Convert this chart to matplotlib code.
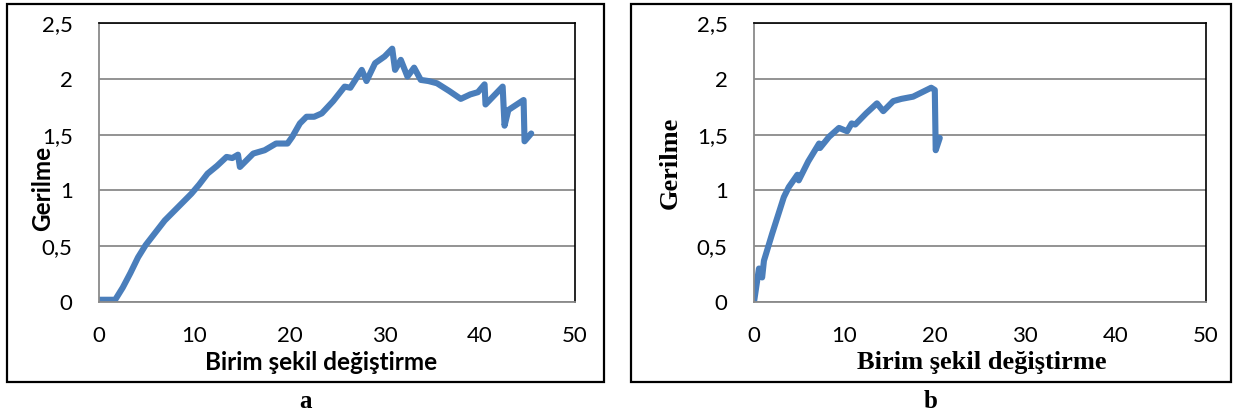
"""Stress-strain curves for samples a and b (Excel style)."""

import matplotlib

matplotlib.use("Agg")
import matplotlib.pyplot as plt
from matplotlib.patches import Rectangle

# sample a
strain_a = [0, 0.5, 1.0, 1.7, 2.5, 3.3, 4.1, 4.9, 5.9, 6.9, 8.3, 9.7, 10.5, 11.4,
            12.4, 13.4, 14.0, 14.6, 14.8, 15.5, 16.2, 17.4, 18.6, 19.8, 20.3, 21.1,
            21.8, 22.6, 23.4, 24.6, 25.8, 26.4, 27.6, 28.1, 29.0, 30.0, 30.8, 31.1,
            31.7, 32.4, 33.1, 33.8, 34.6, 35.5, 36.8, 38.0, 39.0, 39.8, 40.5, 40.6,
            41.5, 42.4, 42.6, 43.0, 44.6, 44.7, 45.4]
stress_a = [0.02, 0.02, 0.02, 0.02, 0.13, 0.26, 0.40, 0.51, 0.62, 0.73, 0.85, 0.97,
            1.05, 1.15, 1.22, 1.30, 1.29, 1.32, 1.21, 1.27, 1.33, 1.36, 1.42, 1.42,
            1.48, 1.60, 1.66, 1.66, 1.69, 1.80, 1.93, 1.92, 2.08, 1.98, 2.14, 2.20,
            2.27, 2.08, 2.17, 2.02, 2.10, 1.99, 1.98, 1.96, 1.89, 1.82, 1.86, 1.88,
            1.95, 1.77, 1.85, 1.93, 1.58, 1.72, 1.81, 1.44, 1.51]

# sample b
strain_b = [0, 0.55, 0.9, 1.1, 2.0, 3.3, 3.85, 4.8, 4.95, 6.0, 7.2, 7.3, 8.3, 9.4,
            10.3, 10.8, 11.2, 12.4, 13.6, 14.3, 15.4, 16.3, 17.6, 18.6, 19.6, 20.0,
            20.1, 20.55]
stress_b = [0, 0.30, 0.22, 0.37, 0.61, 0.94, 1.03, 1.14, 1.09, 1.26, 1.42, 1.38,
            1.48, 1.56, 1.53, 1.60, 1.59, 1.69, 1.78, 1.71, 1.80, 1.82, 1.84, 1.88,
            1.92, 1.90, 1.36, 1.47]

x_ticks = [0, 10, 20, 30, 40, 50]
y_ticks = [0, 0.5, 1, 1.5, 2, 2.5]
y_tick_labels = ["0", "0,5", "1", "1,5", "2", "2,5"]

LINE_COLOR = "#4a7ebb"
GRID_COLOR = "#8a8a8a"
W, H = 1233, 417

fig = plt.figure(figsize=(W / 100, H / 100), dpi=100)


def px_box(x0, y0, x1, y1):
    """Pixel box (top-left origin) -> figure fraction rect."""
    return [x0 / W, 1 - y1 / H, (x1 - x0) / W, (y1 - y0) / H]


def draw_panel(rect, strain, stress, title_font, caption, outer, xlab_pos, ylab_pos, cap_pos):
    ax = fig.add_axes(px_box(*rect))
    ax.plot(strain, stress, color=LINE_COLOR, lw=4.4,
            solid_joinstyle="round", solid_capstyle="round")
    ax.set_xlim(0, 50)
    ax.set_ylim(0, 2.5)
    ax.set_xticks(x_ticks)
    ax.set_yticks(y_ticks)
    ax.set_yticklabels(y_tick_labels)
    ax.tick_params(length=0, labelsize=16)
    ax.tick_params(axis="y", pad=19)
    ax.tick_params(axis="x", pad=17)
    for lab in ax.get_xticklabels() + ax.get_yticklabels():
        lab.set_family("Lato")
    ax.grid(axis="y", color=GRID_COLOR, lw=1.3)
    ax.set_axisbelow(True)
    for side in ("top", "right"):
        ax.spines[side].set_color("black")
        ax.spines[side].set_linewidth(1.2)
    for side in ("left", "bottom"):
        ax.spines[side].set_color(GRID_COLOR)
        ax.spines[side].set_linewidth(1.3)

    fig.add_artist(Rectangle((outer[0] / W, 1 - outer[3] / H),
                             (outer[2] - outer[0]) / W, (outer[3] - outer[1]) / H,
                             transform=fig.transFigure, fill=False,
                             edgecolor="black", lw=1.6))
    fig.text(xlab_pos[0] / W, 1 - xlab_pos[1] / H, "Birim şekil değiştirme",
             ha="center", va="center", fontsize=title_font[1],
             family=title_font[0], fontweight="bold")
    fig.text(ylab_pos[0] / W, 1 - ylab_pos[1] / H, "Gerilme", rotation=90,
             ha="center", va="center", fontsize=title_font[1],
             family=title_font[0], fontweight="bold")
    fig.text(cap_pos[0] / W, 1 - cap_pos[1] / H, caption, ha="center",
             va="center", fontsize=18, family="Liberation Serif",
             fontweight="bold")
    return ax


draw_panel((99, 23, 575, 302), strain_a, stress_a, ("Lato", 17.5), "a",
           (7, 4, 604, 382), (321, 362), (43, 188), (305, 402))
draw_panel((754, 23, 1206, 302), strain_b, stress_b, ("Liberation Serif", 19), "b",
           (631, 4, 1231, 382), (982, 362), (670, 163), (931, 402))

fig.savefig("out.png", dpi=100)
